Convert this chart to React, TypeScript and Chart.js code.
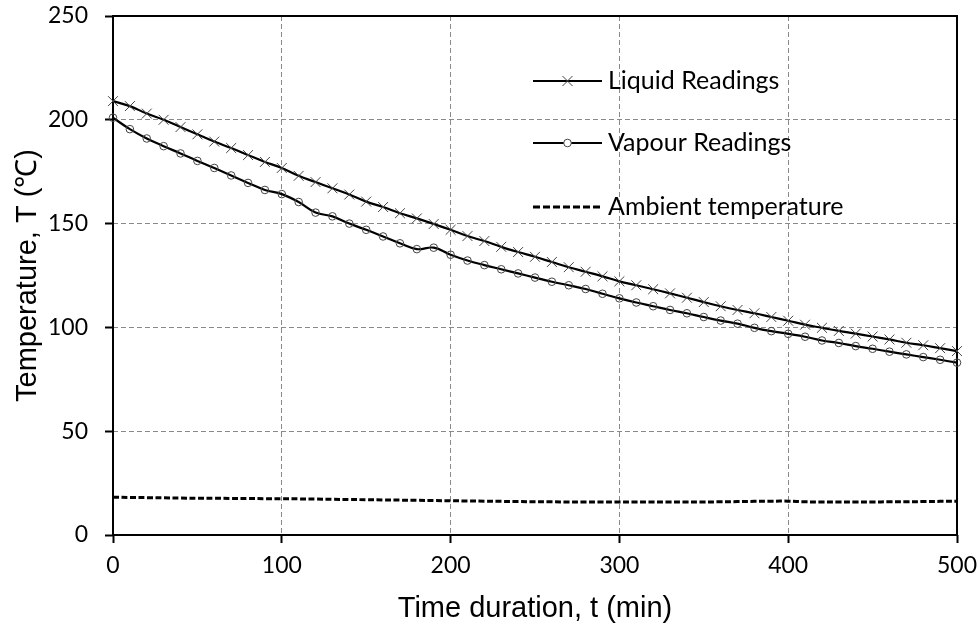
import React, { useEffect, useRef } from "react";
import { Chart, registerables } from "chart.js";

Chart.register(...registerables);

const timeMin = [
  0, 10, 20, 30, 40, 50, 60, 70, 80, 90, 100, 110, 120, 130, 140, 150, 160, 170, 180, 190, 200,
  210, 220, 230, 240, 250, 260, 270, 280, 290, 300, 310, 320, 330, 340, 350, 360, 370, 380, 390, 400,
  410, 420, 430, 440, 450, 460, 470, 480, 490, 500,
];

const liquidReadings = [
  209, 206.6, 203, 200, 196.5, 193, 189.5, 186.4, 183, 179.7, 176.8, 173, 170, 167, 164, 160.6, 158, 155, 152.5, 149.8, 147,
  144, 141.6, 138.8, 136.3, 134, 131.5, 129, 126.8, 124.6, 122.2, 120.3, 118.4, 116.4, 114.3, 112.2, 110.2, 108.4, 106.8, 105, 103.2,
  101.3, 99.8, 98.3, 97, 95.6, 94.2, 92.6, 91.4, 90, 88.6,
];

const vapourReadings = [
  201, 195.5, 191, 187.3, 183.8, 180.2, 176.8, 173.2, 169.6, 166.2, 164.2, 160.4, 155.3, 153.5, 150, 147, 143.8, 140.5, 137.7, 138.4, 135,
  132.2, 130, 128, 126, 124, 122, 120.3, 118.5, 116.2, 114, 112, 110.2, 108.4, 106.8, 105, 103.3, 101.8, 99.8, 98.2, 96.9,
  95.5, 93.7, 92.5, 91, 89.7, 88.3, 87, 85.7, 84.4, 83,
];

const ambientTemperature = [
  18.2, 18.1, 18.0, 17.9, 17.8, 17.7, 17.7, 17.6, 17.6, 17.5, 17.5, 17.4, 17.3, 17.2, 17.1, 17.0, 16.9, 16.8, 16.7, 16.6, 16.5,
  16.4, 16.3, 16.2, 16.1, 16.0, 16.0, 15.9, 15.9, 15.9, 15.9, 15.9, 15.9, 15.9, 15.9, 15.9, 16.0, 16.1, 16.2, 16.3, 16.3,
  16.0, 15.9, 15.9, 15.9, 15.9, 16.0, 16.0, 16.1, 16.2, 16.2,
];

const seriesLabels = ["Liquid Readings", "Vapour Readings", "Ambient temperature"];
const xTitle = "Time duration, t (min)";
const yTitle = "Temperature, T (\u2103)";

const toPoints = (ys: number[]) => ys.map((y, i) => ({ x: timeMin[i], y }));

const framePlugin = {
  id: "frame",
  beforeDatasetsDraw(chart: any) {
    const { ctx, chartArea } = chart;
    ctx.save();
    ctx.strokeStyle = "#000";
    ctx.lineWidth = 2;
    ctx.setLineDash([]);
    ctx.strokeRect(chartArea.left, chartArea.top, chartArea.right - chartArea.left, chartArea.bottom - chartArea.top);
    ctx.restore();
  },
};

const legendPlugin = {
  id: "customLegend",
  afterDraw(chart: any) {
    const { ctx } = chart;
    const x0 = 533;
    const x1 = 602;
    const xm = 567.5;
    const rows = [81, 143, 207];
    ctx.save();
    chart.data.datasets.forEach((ds: any, i: number) => {
      const y = rows[i];
      ctx.beginPath();
      ctx.strokeStyle = "#000";
      if (i === 2) {
        ctx.lineWidth = 3;
        ctx.setLineDash([7, 3]);
      } else {
        ctx.lineWidth = 2;
        ctx.setLineDash([]);
      }
      ctx.moveTo(x0, y);
      ctx.lineTo(x1, y);
      ctx.stroke();
      ctx.setLineDash([]);
      ctx.lineWidth = 1;
      ctx.strokeStyle = "#444";
      if (i === 0) {
        const r = 5;
        ctx.beginPath();
        ctx.moveTo(xm - r, y - r);
        ctx.lineTo(xm + r, y + r);
        ctx.moveTo(xm - r, y + r);
        ctx.lineTo(xm + r, y - r);
        ctx.stroke();
      } else if (i === 1) {
        ctx.beginPath();
        ctx.fillStyle = "#fff";
        ctx.arc(xm, y, 3.8, 0, Math.PI * 2);
        ctx.fill();
        ctx.stroke();
      }
      ctx.fillStyle = "#000";
      ctx.font = "25px Lato";
      ctx.textBaseline = "middle";
      ctx.textAlign = "left";
      ctx.fillText(ds.label, 608, y);
    });
    ctx.restore();
  },
};

export default function App() {
  const canvasRef = useRef<HTMLCanvasElement | null>(null);

  useEffect(() => {
    const canvas = canvasRef.current;
    if (!canvas) return;
    const gridDash = [5, 3];
    const chart = new Chart(canvas, {
      type: "line",
      data: {
        datasets: [
          {
            label: seriesLabels[0],
            data: toPoints(liquidReadings),
            borderColor: "#000",
            borderWidth: 2.2,
            pointStyle: "crossRot",
            pointRadius: 7,
            pointBorderColor: "#444",
            pointBorderWidth: 1,
            pointBackgroundColor: "rgba(0,0,0,0)",
            tension: 0.4,
            clip: false as any,
          },
          {
            label: seriesLabels[1],
            data: toPoints(vapourReadings),
            borderColor: "#000",
            borderWidth: 2.2,
            pointStyle: "circle",
            pointRadius: 3.8,
            pointBorderColor: "#444",
            pointBorderWidth: 1,
            pointBackgroundColor: "rgba(0,0,0,0)",
            tension: 0.4,
            clip: false as any,
          },
          {
            label: seriesLabels[2],
            data: toPoints(ambientTemperature),
            borderColor: "#000",
            borderWidth: 3,
            borderDash: [6, 2.5],
            pointRadius: 0,
            tension: 0.4,
            clip: false as any,
          },
        ],
      },
      options: {
        responsive: false,
        animation: false,
        events: [],
        layout: { padding: { top: 16, right: 23, left: 0, bottom: 0 } },
        plugins: {
          legend: { display: false },
          tooltip: { enabled: false },
        },
        scales: {
          x: {
            type: "linear",
            min: 0,
            max: 500,
            afterFit: (scale: any) => {
              scale.height = 94;
              scale.paddingLeft = 0;
              scale.paddingRight = 0;
            },
            ticks: {
              stepSize: 100,
              color: "#000",
              padding: 9,
              font: { family: "Lato", size: 23 },
              maxRotation: 0,
            },
            border: { display: false, dash: gridDash },
            grid: {
              color: "#8a8a8a",
              lineWidth: 1,
              drawTicks: true,
              tickLength: 8,
              tickColor: "#000",
              tickWidth: 2,
              tickBorderDash: [],
            } as any,
            title: {
              display: true,
              text: xTitle,
              color: "#000",
              font: { family: "Liberation Sans, Arial", size: 29 },
              padding: { top: 0, bottom: 3 },
            },
          },
          y: {
            type: "linear",
            min: 0,
            max: 250,
            afterFit: (scale: any) => {
              scale.width = 113;
              scale.paddingTop = 0;
              scale.paddingBottom = 0;
            },
            ticks: {
              stepSize: 50,
              color: "#000",
              padding: 17,
              font: { family: "Lato", size: 23 },
            },
            border: { display: false, dash: gridDash },
            grid: {
              color: "#8a8a8a",
              lineWidth: 1,
              drawTicks: true,
              tickLength: 8,
              tickColor: "#000",
              tickWidth: 2,
              tickBorderDash: [],
            } as any,
            title: {
              display: true,
              text: yTitle,
              color: "#000",
              font: { family: "Liberation Sans, Arial", size: 29 },
              padding: { top: 11, bottom: 0 },
            },
          },
        },
      },
      plugins: [framePlugin, legendPlugin],
    });
    return () => chart.destroy();
  }, []);

  return (
    <div style={{ position: "absolute", left: 0, top: 0, width: 980, height: 629, background: "#fff" }}>
      <canvas ref={canvasRef} width={980} height={629} style={{ width: 980, height: 629 }} />
    </div>
  );
}
